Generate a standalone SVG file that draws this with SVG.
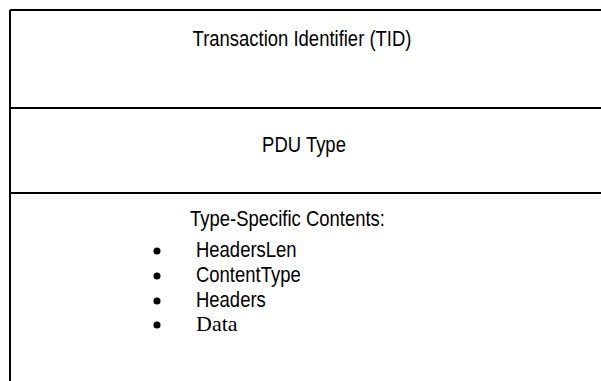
<svg xmlns="http://www.w3.org/2000/svg" width="601" height="381" viewBox="0 0 601 381">
<style>
.ln{stroke:#000;stroke-width:2;fill:none}
.t{font-family:"Liberation Sans",Arial,sans-serif;font-size:22px;fill:#000}
.s{font-family:"Liberation Serif","Times New Roman",serif;font-size:22px;fill:#000}
.c{text-anchor:middle}
</style>
<rect width="601" height="381" fill="#fff"/>
<g id="frame">
<path class="ln" d="M10 10H601M10 10V381"/>
</g>
<g id="connectors">
<path class="ln" d="M10 108H601M10 193H601"/>
</g>
<g id="tid">
<text class="t c" transform="translate(302,46) scale(0.84,1)">Transaction Identifier (TID)</text>
</g>
<g id="pdutype">
<text class="t c" transform="translate(304,152) scale(0.84,1)">PDU Type</text>
</g>
<g id="contents">
<text class="t" transform="translate(190,226) scale(0.84,1)">Type-Specific Contents:</text>
<circle cx="157" cy="251" r="3.5"/>
<text class="t" transform="translate(196,257) scale(0.84,1)">HeadersLen</text>
<circle cx="157" cy="276" r="3.5"/>
<text class="t" transform="translate(196,282) scale(0.84,1)">ContentType</text>
<circle cx="157" cy="301" r="3.5"/>
<text class="t" transform="translate(196,307) scale(0.84,1)">Headers</text>
<circle cx="157" cy="325" r="3.5"/>
<text class="s" x="196" y="331">Data</text>
</g>
</svg>
